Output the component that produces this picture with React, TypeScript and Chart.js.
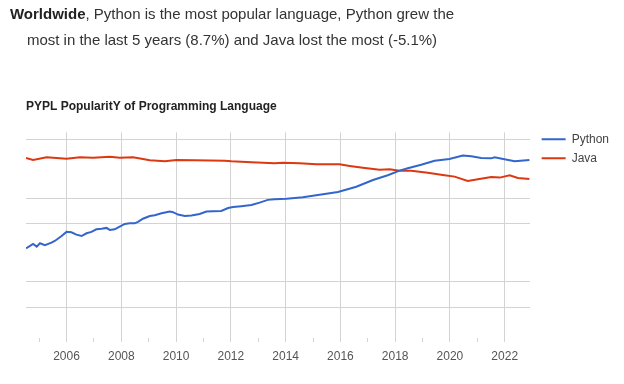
import React, { useEffect, useRef } from 'react';
import { Chart, registerables } from 'chart.js';

Chart.register(...registerables);

const HEADLINE_BOLD = 'Worldwide';
const HEADLINE_LINE1 = ', Python is the most popular language, Python grew the';
const HEADLINE_LINE2 = 'most in the last 5 years (8.7%) and Java lost the most (-5.1%)';
const CHART_TITLE = 'PYPL PopularitY of Programming Language';
const SERIES_NAMES = ['Python', 'Java'];
const SERIES_COLORS = ['#3366cc', '#dc3912'];

const PYTHON_YEARS = [
  2004.52, 2004.78, 2004.91, 2005.03, 2005.21, 2005.45, 2005.57, 2005.82, 2006.0, 2006.18,
  2006.36, 2006.55, 2006.73, 2006.91, 2007.09, 2007.28, 2007.46, 2007.58, 2007.76, 2007.94,
  2008.13, 2008.31, 2008.49, 2008.61, 2008.79, 2009.04, 2009.22, 2009.47, 2009.77, 2009.89,
  2010.07, 2010.32, 2010.56, 2010.86, 2011.11, 2011.35, 2011.65, 2011.9, 2012.08, 2012.38,
  2012.75, 2013.05, 2013.35, 2013.6, 2014.03, 2014.63, 2015.18, 2015.91, 2016.58, 2017.19,
  2017.73, 2018.16, 2018.46, 2018.95, 2019.44, 2019.98, 2020.47, 2020.78, 2021.14, 2021.51,
  2021.63, 2021.99, 2022.36, 2022.91,
];
const PYTHON_VALUES = [
  45.1, 47.3, 46.0, 47.7, 46.7, 48.0, 48.8, 51.3, 53.4, 53.2,
  52.0, 51.3, 52.7, 53.4, 54.7, 55.0, 55.4, 54.4, 54.7, 56.0,
  57.4, 57.7, 57.7, 58.4, 60.0, 61.4, 61.8, 62.8, 63.6, 63.3,
  62.1, 61.4, 61.6, 62.4, 63.6, 63.8, 63.9, 65.4, 65.9, 66.3,
  66.9, 68.1, 69.5, 69.8, 70.1, 70.8, 72.0, 73.5, 76.1, 79.5,
  81.9, 84.2, 85.4, 87.2, 89.2, 90.1, 91.8, 91.4, 90.6, 90.4,
  90.9, 89.9, 88.9, 89.6,
];

const JAVA_YEARS = [
  2004.52, 2004.78, 2005.27, 2006.0, 2006.49, 2006.97, 2007.58, 2007.94, 2008.43, 2008.79,
  2009.04, 2009.59, 2010.01, 2010.68, 2011.78, 2012.02, 2012.75, 2013.6, 2013.9, 2014.51,
  2015.12, 2015.97, 2016.34, 2016.82, 2017.43, 2017.8, 2018.16, 2018.59, 2019.19, 2019.8,
  2020.17, 2020.65, 2021.02, 2021.51, 2021.82, 2022.18, 2022.48, 2022.91,
];
const JAVA_VALUES = [
  90.6, 89.6, 90.9, 90.2, 90.9, 90.7, 91.2, 90.7, 90.9, 90.1,
  89.4, 88.9, 89.6, 89.4, 89.2, 88.9, 88.4, 87.9, 88.2, 87.9,
  87.4, 87.4, 86.6, 85.7, 84.6, 84.9, 84.2, 84.2, 83.2, 81.9,
  81.2, 79.0, 79.9, 81.0, 80.7, 81.9, 80.5, 80.0,
];

const X_TICK_YEARS = [
  2005, 2006, 2007, 2008, 2009, 2010, 2011, 2012, 2013, 2014,
  2015, 2016, 2017, 2018, 2019, 2020, 2021, 2022,
];
const Y_GRID_VALUES = [15.2, 28.2, 57.5, 70.3, 100];

const FONT = "'Liberation Sans', Arial, Helvetica, sans-serif";
const GRID_COLOR = '#d3d3d3';

export default function App() {
  const canvasRef = useRef<HTMLCanvasElement | null>(null);

  useEffect(() => {
    const canvas = canvasRef.current;
    if (!canvas) return;
    Chart.defaults.font.family = FONT;
    const pts = (xs: number[], ys: number[]) => xs.map((x, i) => ({ x, y: ys[i] }));
    const chart = new Chart(canvas, {
      type: 'line',
      data: {
        datasets: [
          {
            label: SERIES_NAMES[0],
            data: pts(PYTHON_YEARS, PYTHON_VALUES),
            borderColor: SERIES_COLORS[0],
            backgroundColor: SERIES_COLORS[0],
            borderWidth: 2,
            pointRadius: 0,
            tension: 0,
          },
          {
            label: SERIES_NAMES[1],
            data: pts(JAVA_YEARS, JAVA_VALUES),
            borderColor: SERIES_COLORS[1],
            backgroundColor: SERIES_COLORS[1],
            borderWidth: 2,
            pointRadius: 0,
            tension: 0,
          },
        ],
      },
      options: {
        responsive: false,
        animation: false,
        devicePixelRatio: 1,
        layout: { padding: { top: 90, left: 26, right: 5, bottom: 13.6 } },
        plugins: {
          tooltip: { enabled: false },
          title: {
            display: true,
            text: CHART_TITLE,
            align: 'start',
            color: '#222',
            font: { size: 12, weight: 'bold', family: FONT },
            padding: { top: 9.5, bottom: 18.4 },
          },
          legend: {
            display: true,
            position: 'right',
            align: 'start',
            title: { display: true, text: '', font: { size: 10, lineHeight: 1 }, padding: { top: 26.3, bottom: 0 } },
            labels: {
              usePointStyle: true,
              pointStyle: 'line',
              pointStyleWidth: 24,
              padding: 7,
              color: '#444',
              font: { size: 12, family: FONT },
            },
          },
        },
        scales: {
          x: {
            type: 'linear',
            min: 2004.52,
            max: 2022.91,
            afterBuildTicks: (axis: any) => {
              axis.ticks = X_TICK_YEARS.map((v) => ({ value: v }));
            },
            border: { display: false },
            grid: {
              color: (ctx: any) => (ctx.tick && ctx.tick.value % 2 === 0 ? GRID_COLOR : 'rgba(0,0,0,0)'),
              tickColor: GRID_COLOR,
              tickLength: 4,
              drawTicks: true,
            },
            ticks: {
              autoSkip: false,
              maxRotation: 0,
              padding: 7,
              color: '#555',
              font: { size: 12, family: FONT },
              callback: (v: any) => (Number(v) % 2 === 0 ? String(v) : ''),
            },
          },
          y: {
            type: 'linear',
            position: 'right',
            min: 0,
            max: 103.5,
            afterBuildTicks: (axis: any) => {
              axis.ticks = Y_GRID_VALUES.map((v) => ({ value: v }));
            },
            border: { display: false },
            grid: {
              color: GRID_COLOR,
              drawTicks: true,
              tickLength: 5,
              tickColor: 'rgba(0,0,0,0)',
            },
            ticks: { display: false },
          },
        },
      },
    });
    return () => chart.destroy();
  }, []);

  return (
    <div style={{ position: 'fixed', left: 0, top: 0, width: 624, height: 384, background: '#fff', overflow: 'hidden' }}>
      <canvas ref={canvasRef} width={624} height={384} style={{ position: 'absolute', left: 0, top: 0, width: 624, height: 384 }} />
      <div
        style={{
          position: 'absolute',
          left: 0,
          top: 1,
          width: 464,
          textAlign: 'center',
          whiteSpace: 'nowrap',
          fontFamily: FONT,
          fontSize: 15,
          lineHeight: '26px',
          color: '#333',
        }}
      >
        <b style={{ color: '#222' }}>{HEADLINE_BOLD}</b>
        {HEADLINE_LINE1}
        <br />
        {HEADLINE_LINE2}
      </div>
    </div>
  );
}
